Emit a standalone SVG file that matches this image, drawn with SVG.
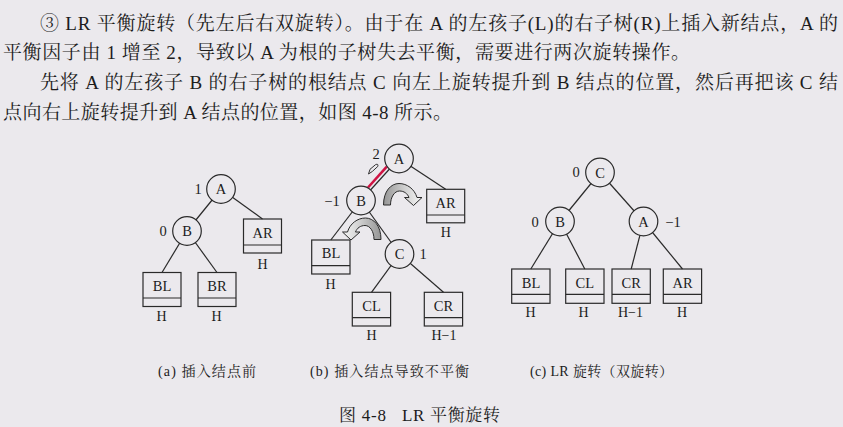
<svg xmlns="http://www.w3.org/2000/svg" width="843" height="427" viewBox="0 0 843 427">
<style>
.t{font-family:"Liberation Serif","Noto Serif CJK SC","Noto Sans CJK SC",serif;fill:#1c1c1c}
.p{font-size:19px}
.n{font-size:14.5px;text-anchor:middle}
.h{font-size:14px;text-anchor:middle}
.cap{font-size:14px}
.ttl{font-size:17px}
.e{stroke:#2a2a2a;stroke-width:1.2;fill:none}
.c{stroke:#2a2a2a;stroke-width:1.2;fill:#ebe9ed}
.b{stroke:#2a2a2a;stroke-width:1.2;fill:none}
.arr{stroke:#2a2a2a;stroke-width:1;fill:url(#g)}
</style>
<defs>
<linearGradient id="g" x1="0" y1="0" x2="1" y2="0">
<stop offset="0" stop-color="#959595"/>
<stop offset="0.55" stop-color="#cfcfcf"/>
<stop offset="1" stop-color="#f6f6f6"/>
</linearGradient>
<path id="curl" d="M383.5,205 C383.5,191 391,183.5 399,183.5 C407,183.5 414.5,189 417,197.5 L422,197.5 L413.5,205.5 L404.5,197.5 L409,197.5 C407.5,193.5 404,191 399.5,191 C394.5,191 390.5,197 390.5,205 Z"/>
</defs>
<rect width="843" height="427" fill="#ebe9ed"/>

<g id="paragraph" class="t p">
<text x="40" y="29.5" textLength="798" lengthAdjust="spacing">③ LR 平衡旋转（先左后右双旋转）。由于在 A 的左孩子(L)的右子树(R)上插入新结点，A 的</text>
<text x="3" y="58.5" textLength="687" lengthAdjust="spacing">平衡因子由 1 增至 2，导致以 A 为根的子树失去平衡，需要进行两次旋转操作。</text>
<text x="40" y="88.5" textLength="798" lengthAdjust="spacing">先将 A 的左孩子 B 的右子树的根结点 C 向左上旋转提升到 B 结点的位置，然后再把该 C 结</text>
<text x="3" y="118.5" textLength="449" lengthAdjust="spacing">点向右上旋转提升到 A 结点的位置，如图 4-8 所示。</text>
</g>

<g id="connectors">
<!-- (a) -->
<line class="e" x1="221" y1="189" x2="187" y2="231"/>
<line class="e" x1="221" y1="189" x2="262.5" y2="219"/>
<line class="e" x1="187" y1="231" x2="162" y2="272.5"/>
<line class="e" x1="187" y1="231" x2="217" y2="272.5"/>
<!-- (b) -->
<line class="e" x1="399" y1="158.5" x2="361" y2="200.5"/>
<line x1="386.8" y1="166.7" x2="368" y2="187.5" stroke="#cf1444" stroke-width="2.6"/>
<line class="e" x1="399" y1="158.5" x2="445.7" y2="189.3"/>
<line class="e" x1="361" y1="200.5" x2="330.8" y2="240"/>
<line class="e" x1="361" y1="200.5" x2="399.5" y2="254"/>
<line class="e" x1="399.5" y1="254" x2="371.5" y2="292.3"/>
<line class="e" x1="399.5" y1="254" x2="443.5" y2="292.3"/>
<!-- (c) -->
<line class="e" x1="600" y1="172.5" x2="560" y2="221.5"/>
<line class="e" x1="600" y1="172.5" x2="643.5" y2="221.5"/>
<line class="e" x1="560" y1="221.5" x2="530.8" y2="269"/>
<line class="e" x1="560" y1="221.5" x2="584.8" y2="269"/>
<line class="e" x1="643.5" y1="221.5" x2="631.2" y2="269"/>
<line class="e" x1="643.5" y1="221.5" x2="682.5" y2="269"/>
</g>

<!-- tree (a) -->
<g id="a-A"><circle class="c" cx="221" cy="189" r="14.3"/><text class="t n" x="221" y="194">A</text><text class="t n" x="198" y="194">1</text></g>
<g id="a-B"><circle class="c" cx="187" cy="231" r="14.3"/><text class="t n" x="187" y="236">B</text><text class="t n" x="163" y="236">0</text></g>
<g id="a-AR"><rect class="b" x="243.5" y="219" width="38" height="34"/><line class="b" x1="243.5" y1="245" x2="281.5" y2="245"/><text class="t n" x="262.5" y="237.5">AR</text><text class="t h" x="262.5" y="268.5">H</text></g>
<g id="a-BL"><rect class="b" x="143" y="272.5" width="38" height="34"/><line class="b" x1="143" y1="298" x2="181" y2="298"/><text class="t n" x="162" y="291">BL</text><text class="t h" x="161.5" y="320.5">H</text></g>
<g id="a-BR"><rect class="b" x="198" y="272.5" width="38" height="34"/><line class="b" x1="198" y1="298" x2="236" y2="298"/><text class="t n" x="217" y="291">BR</text><text class="t h" x="216.5" y="320.5">H</text></g>

<!-- tree (b) -->
<g id="b-A"><circle class="c" cx="399" cy="158.5" r="14.3"/><text class="t n" x="399" y="163.5">A</text><text class="t n" x="376" y="158.5">2</text>
<path d="M368.5,174 L370,169.3 L375.6,164.6 Q378.6,163.4 377.8,166.4 L372.4,171.4 Z" fill="none" stroke="#333" stroke-width="1"/></g>
<g id="b-B"><circle class="c" cx="361" cy="200.5" r="14.3"/><text class="t n" x="361" y="205.5">B</text><text class="t n" x="332" y="205.5">−1</text></g>
<g id="b-C"><circle class="c" cx="399.5" cy="254" r="14.3"/><text class="t n" x="399.5" y="259">C</text><text class="t n" x="423" y="259">1</text></g>
<g id="b-AR"><rect class="b" x="426.7" y="189.3" width="38" height="33.5"/><line class="b" x1="426.7" y1="215" x2="464.7" y2="215"/><text class="t n" x="445.7" y="207.5">AR</text><text class="t h" x="445.7" y="236.5">H</text></g>
<g id="b-BL"><rect class="b" x="311.7" y="240" width="38.3" height="34"/><line class="b" x1="311.7" y1="265.7" x2="350" y2="265.7"/><text class="t n" x="331" y="258">BL</text><text class="t h" x="330.5" y="289">H</text></g>
<g id="b-CL"><rect class="b" x="352.3" y="292.3" width="38.3" height="33.7"/><line class="b" x1="352.3" y1="317.7" x2="390.6" y2="317.7"/><text class="t n" x="371.5" y="310.5">CL</text><text class="t h" x="371.5" y="340">H</text></g>
<g id="b-CR"><rect class="b" x="424.3" y="292.3" width="38.3" height="33.7"/><line class="b" x1="424.3" y1="317.7" x2="462.6" y2="317.7"/><text class="t n" x="443.5" y="310.5">CR</text><text class="t h" x="444" y="340">H−1</text></g>
<g id="b-rot1"><use href="#curl" class="arr"/></g>
<g id="b-rot2"><use href="#curl" class="arr" transform="translate(764.5,34.5) scale(-1,1)"/></g>

<!-- tree (c) -->
<g id="c-C"><circle class="c" cx="600" cy="172.5" r="14.3"/><text class="t n" x="600" y="177.5">C</text><text class="t n" x="576" y="177">0</text></g>
<g id="c-B"><circle class="c" cx="560" cy="221.5" r="14.3"/><text class="t n" x="560" y="226.5">B</text><text class="t n" x="535" y="226.5">0</text></g>
<g id="c-A"><circle class="c" cx="643.5" cy="221.5" r="14.3"/><text class="t n" x="643.5" y="226.5">A</text><text class="t n" x="673" y="226.5">−1</text></g>
<g id="c-BL"><rect class="b" x="511.7" y="269" width="38.3" height="34.3"/><line class="b" x1="511.7" y1="294.3" x2="550" y2="294.3"/><text class="t n" x="531" y="287.5">BL</text><text class="t h" x="530.5" y="317">H</text></g>
<g id="c-CL"><rect class="b" x="565.7" y="269" width="38.3" height="34.3"/><line class="b" x1="565.7" y1="294.3" x2="604" y2="294.3"/><text class="t n" x="584.8" y="287.5">CL</text><text class="t h" x="583.5" y="317">H</text></g>
<g id="c-CR"><rect class="b" x="612" y="269" width="38.3" height="34.3"/><line class="b" x1="612" y1="294.3" x2="650.3" y2="294.3"/><text class="t n" x="631.2" y="287.5">CR</text><text class="t h" x="630.5" y="317">H−1</text></g>
<g id="c-AR"><rect class="b" x="663.3" y="269" width="38.3" height="34.3"/><line class="b" x1="663.3" y1="294.3" x2="701.6" y2="294.3"/><text class="t n" x="682.5" y="287.5">AR</text><text class="t h" x="682" y="317">H</text></g>

<g id="captions" class="t cap">
<text x="158" y="375.5" textLength="98" lengthAdjust="spacing">(a) 插入结点前</text>
<text x="310" y="375.5" textLength="159" lengthAdjust="spacing">(b) 插入结点导致不平衡</text>
<text x="530" y="375.5" textLength="143" lengthAdjust="spacing">(c) LR 旋转（双旋转）</text>
</g>
<g id="title" class="t ttl">
<text x="339" y="420.5" textLength="47" lengthAdjust="spacing">图 4-8</text>
<text x="402" y="420.5" textLength="98" lengthAdjust="spacing">LR 平衡旋转</text>
</g>
</svg>
